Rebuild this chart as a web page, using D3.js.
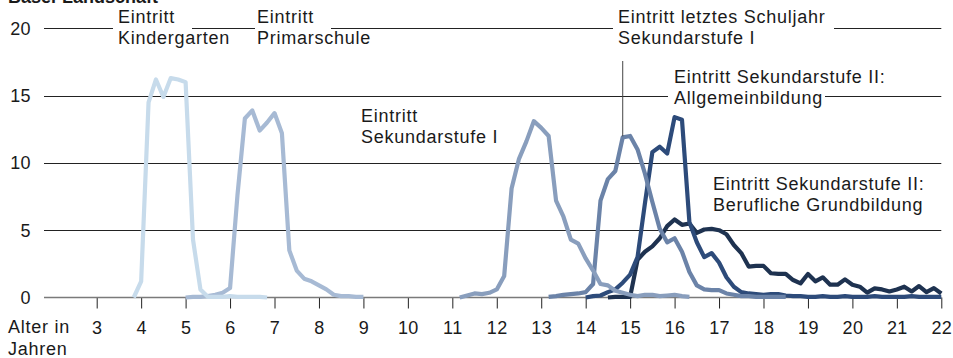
<!DOCTYPE html>
<html>
<head>
<meta charset="utf-8">
<script src="https://cdn.jsdelivr.net/npm/d3@7"></script>
<style>
  html, body { margin: 0; padding: 0; background: #fff; }
  svg { display: block; font-family: "Liberation Sans", Arial, sans-serif; }
</style>
</head>
<body>
<svg id="chart" width="953" height="358"></svg>
<script>
// ---- data ----
const step = 1 / 6; // two-month steps
const yTicks = [0, 5, 10, 15, 20];
const xTicks = [3,4,5,6,7,8,9,10,11,12,13,14,15,16,17,18,19,20,21,22];
const xAxisTitle = ["Alter in", "Jahren"];
const title = "Basel-Landschaft";

const kindergartenStart = 3 + 5 / 6;
const kindergarten = [0, 1.2, 14.5, 16.2, 14.9, 16.3, 16.2, 16.0, 4.3, 0.6, 0.05, 0.05, 0.05, 0.1, 0.05, 0.05, 0.05, 0.05, 0];

const primarStart = 5;
const primar = [0, 0.05, 0.05, 0.1, 0.2, 0.35, 0.7, 7.6, 13.3, 13.9, 12.4, 13.0, 13.7, 12.2, 3.5, 2.0, 1.4, 1.2, 0.9, 0.6, 0.2, 0.1, 0.1, 0.05, 0.05];

const sek1Start = 11 + 1 / 6;
const sek1 = [0, 0.15, 0.3, 0.25, 0.35, 0.6, 1.6, 8.1, 10.3, 11.6, 13.1, 12.6, 12.0, 7.2, 6.0, 4.3, 4.0, 2.9, 2.0, 1.0, 0.9, 0.5, 0.35, 0.2, 0.1, 0.2, 0.2, 0.1, 0.15, 0.2, 0.1, 0.05];

const letztesStart = 13 + 1 / 6;
const letztes = [0.05, 0.1, 0.2, 0.25, 0.3, 0.4, 1.0, 7.2, 8.8, 9.4, 11.9, 12.0, 11.0, 9.2, 7.1, 5.1, 4.1, 4.4, 3.4, 1.9, 0.9, 0.6, 0.55, 0.55, 0.3, 0.2, 0.1, 0.1, 0.05, 0.05, 0.05, 0.05, 0.05];

const allgemeinStart = 14;
const allgemein = [0, 0.1, 0.15, 0.4, 0.6, 1.1, 1.7, 3.0, 7.0, 10.8, 11.2, 10.7, 13.4, 13.2, 5.6, 4.1, 3.0, 3.3, 2.6, 1.5, 0.8, 0.4, 0.3, 0.25, 0.2, 0.25, 0.25, 0.15, 0.1, 0.1, 0.05,
  0.05, 0.1, 0.05, 0.05, 0.1, 0.05, 0.05, 0.05, 0.1, 0.05, 0.05, 0.05, 0.05, 0.1, 0.05, 0.05, 0.05, 0.05];

const berufStart = 14.5;
const beruf = [0, 0.05, 0.05, 0.05, 2.8, 3.4, 3.8, 4.4, 5.3, 5.8, 5.4, 5.5, 4.8, 5.05, 5.1, 5.0, 4.7, 3.9, 3.3, 2.3, 2.35, 2.35, 1.8, 1.75, 1.75, 1.3, 1.05, 1.75, 1.2, 1.5, 0.95, 0.95, 1.35, 0.95, 0.8, 0.36, 0.68, 0.6, 0.45, 0.6, 0.8, 0.45, 0.85, 0.4, 0.7, 0.3];

const series = [
  { name: "Eintritt Sekundarstufe II: Berufliche Grundbildung", start: berufStart, values: beruf, color: "#1e3250" },
  { name: "Eintritt Sekundarstufe II: Allgemeinbildung", start: allgemeinStart, values: allgemein, color: "#2d4b7a" },
  { name: "Eintritt letztes Schuljahr Sekundarstufe I", start: letztesStart, values: letztes, color: "#6b83a8" },
  { name: "Eintritt Sekundarstufe I", start: sek1Start, values: sek1, color: "#899ebd" },
  { name: "Eintritt Primarschule", start: primarStart, values: primar, color: "#a7bad4" },
  { name: "Eintritt Kindergarten", start: kindergartenStart, values: kindergarten, color: "#c7dbeb" }
];

// ---- layout ----
const svg = d3.select("#chart");
const x = d3.scaleLinear().domain([3, 22]).range([96.7, 941.3]);
const y = d3.scaleLinear().domain([0, 20]).range([297.5, 28.3]);
const gridLeft = 44, gridRight = 941.3;
const fs = 18;
const ls = "0.75px";
const textColor = "#1a1a1a";

// Gridline segments (gaps leave room for labels)
const gridSegments = {
  20: [[gridLeft, 113], [192, 255], [331, 613], [834, gridRight]],
  15: [[gridLeft, 668], [825, gridRight]],
  10: [[gridLeft, gridRight]],
  5: [[gridLeft, gridRight]]
};
const grid = svg.append("g");
yTicks.filter(t => t > 0).forEach(t => {
  gridSegments[t].forEach(([a, b]) => {
    grid.append("line")
      .attr("x1", a).attr("x2", b)
      .attr("y1", Math.round(y(t)) + 0.5).attr("y2", Math.round(y(t)) + 0.5)
      .attr("stroke", "#222").attr("stroke-width", 1);
  });
});

// y tick labels
svg.append("g").selectAll("text").data(yTicks).join("text")
  .attr("x", 31).attr("y", d => y(d)).attr("dy", "0.35em")
  .attr("text-anchor", "end").attr("font-size", fs).attr("fill", textColor)
  .attr("letter-spacing", "0.4px")
  .text(d => d);

// x axis
const xAxis = d3.axisBottom(x).tickValues(xTicks).tickSize(11).tickPadding(13).tickFormat(d3.format("d"));
const xg = svg.append("g").attr("transform", `translate(0,${y(0)})`).call(xAxis);
xg.select(".domain").remove();
xg.selectAll(".tick line").attr("stroke", "#222").attr("stroke-width", 1);
xg.selectAll(".tick text").attr("font-size", fs).attr("fill", textColor)
  .attr("font-family", "Liberation Sans, Arial, sans-serif").attr("letter-spacing", "0.4px");
svg.append("line").attr("x1", gridLeft).attr("x2", gridRight)
  .attr("y1", y(0)).attr("y2", y(0)).attr("stroke", "#7a7a7a").attr("stroke-width", 1.6);

svg.append("text").attr("x", 8).attr("y", 333).attr("font-size", fs).attr("fill", textColor)
  .attr("letter-spacing", ls)
  .selectAll("tspan").data(xAxisTitle).join("tspan")
  .attr("x", 8).attr("dy", (d, i) => i === 0 ? 0 : 22).text(d => d);

// title (cut at top, as in the reference)
svg.append("text").attr("x", 8).attr("y", 3).attr("font-size", fs).attr("font-weight", "bold")
  .attr("fill", textColor).text(title);

// lines
const line = d3.line()
  .x(d => x(d.age))
  .y(d => y(d.v));
svg.append("g").selectAll("path").data(series).join("path")
  .attr("d", s => line(s.values.map((v, i) => ({ age: s.start + i * step, v }))))
  .attr("fill", "none").attr("stroke", s => s.color).attr("stroke-width", 4.2)
  .attr("stroke-linejoin", "round").attr("stroke-linecap", "butt");

// leader line to peak of "letztes Schuljahr"
const leaderIdx = 10;
svg.append("line")
  .attr("x1", x(letztesStart + leaderIdx * step)).attr("x2", x(letztesStart + leaderIdx * step))
  .attr("y1", 61).attr("y2", y(letztes[leaderIdx]) - 1)
  .attr("stroke", "#444").attr("stroke-width", 1);

// labels
const labels = [
  { x: 118, y: 22.7, lines: ["Eintritt", "Kindergarten"] },
  { x: 257, y: 22.7, lines: ["Eintritt", "Primarschule"] },
  { x: 361, y: 121.7, lines: ["Eintritt", "Sekundarstufe I"] },
  { x: 618, y: 22.7, lines: ["Eintritt letztes Schuljahr", "Sekundarstufe I"] },
  { x: 674, y: 83.3, lines: ["Eintritt Sekundarstufe II:", "Allgemeinbildung"] },
  { x: 713, y: 190, lines: ["Eintritt Sekundarstufe II:", "Berufliche Grundbildung"] }
];
labels.forEach(l => {
  svg.append("text").attr("x", l.x).attr("y", l.y).attr("font-size", fs).attr("fill", textColor)
    .attr("letter-spacing", ls)
    .selectAll("tspan").data(l.lines).join("tspan")
    .attr("x", l.x).attr("dy", (d, i) => i === 0 ? 0 : 21).text(d => d);
});
</script>
</body>
</html>
